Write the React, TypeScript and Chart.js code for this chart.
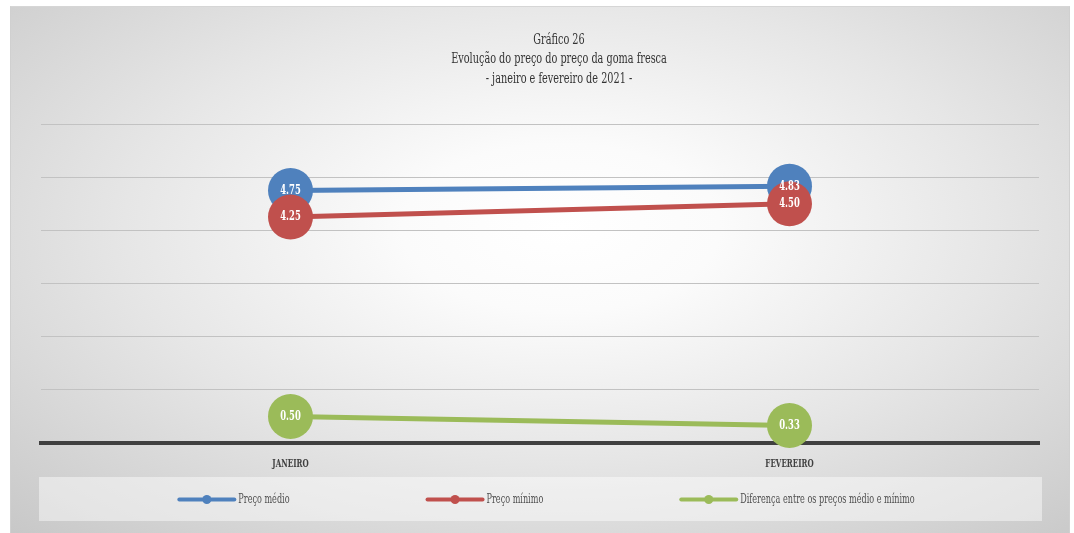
import React, { useEffect, useRef } from "react";
import { Chart, registerables } from "chart.js";

Chart.register(...registerables);

const categories = ["JANEIRO", "FEVEREIRO"];
const precoMedio = [4.75, 4.83];
const precoMinimo = [4.25, 4.5];
const diferenca = [0.5, 0.33];
const seriesLabels = [
  "Preço médio",
  "Preço mínimo",
  "Diferença entre os preços médio e mínimo",
];
const seriesColors = ["#4F81BD", "#C0504D", "#9BBB59"];
const titleLines = [
  "Gráfico 26",
  "Evolução do preço do preço da goma fresca",
  "- janeiro e fevereiro de 2021 -",
];
const yMin = 0;
const yMax = 6;
const yStep = 1;

const FONT = "'DejaVu Serif Condensed', 'DejaVu Serif', serif";
const SX = 0.72;

function drawText(
  ctx: CanvasRenderingContext2D,
  text: string,
  x: number,
  y: number,
  font: string,
  color: string,
  align: "left" | "center" | "right"
) {
  ctx.save();
  ctx.font = font;
  ctx.fillStyle = color;
  ctx.textBaseline = "middle";
  ctx.textAlign = align;
  ctx.translate(x, y);
  ctx.scale(SX, 1);
  ctx.fillText(text, 0, 0);
  ctx.restore();
}

function textWidth(ctx: CanvasRenderingContext2D, text: string, font: string) {
  ctx.save();
  ctx.font = font;
  const w = ctx.measureText(text).width * SX;
  ctx.restore();
  return w;
}

const decorPlugin = {
  id: "decor",
  afterDatasetsDraw(chart: any) {
    const ctx = chart.ctx as CanvasRenderingContext2D;
    chart.data.datasets.forEach((ds: any, i: number) => {
      const meta = chart.getDatasetMeta(i);
      meta.data.forEach((el: any, j: number) => {
        drawText(ctx, Number(ds.data[j]).toFixed(2), el.x, el.y, `bold 13px ${FONT}`, "#ffffff", "center");
      });
    });
  },
  afterDraw(chart: any) {
    const ctx = chart.ctx as CanvasRenderingContext2D;
    const area = chart.chartArea;
    const cx = (area.left + area.right) / 2;
    titleLines.forEach((t, i) => {
      drawText(ctx, t, cx + 19, 33 + i * 19.5, `15px ${FONT}`, "#333333", "center");
    });
    const xs = chart.scales.x;
    categories.forEach((c, i) => {
      drawText(ctx, c, xs.getPixelForValue(i), area.bottom + 21, `bold 11px ${FONT}`, "#404040", "center");
    });
    const boxTop = area.bottom + 34;
    const boxH = 44;
    ctx.save();
    ctx.fillStyle = "rgba(255,255,255,0.45)";
    ctx.fillRect(area.left - 2, boxTop, area.right - area.left + 5, boxH);
    ctx.restore();
    const font = `12.5px ${FONT}`;
    const lineLen = 55;
    const gap = 138;
    const widths = seriesLabels.map((l) => lineLen + 4 + textWidth(ctx, l, font));
    const total = widths.reduce((a, b) => a + b, 0) + gap * (widths.length - 1);
    let x = cx - total / 2 + 7;
    const y = boxTop + boxH / 2 + 0.5;
    seriesLabels.forEach((l, i) => {
      ctx.save();
      ctx.strokeStyle = seriesColors[i];
      ctx.lineWidth = 4;
      ctx.lineCap = "round";
      ctx.beginPath();
      ctx.moveTo(x, y);
      ctx.lineTo(x + lineLen, y);
      ctx.stroke();
      ctx.fillStyle = seriesColors[i];
      ctx.beginPath();
      ctx.arc(x + lineLen / 2, y, 4.5, 0, Math.PI * 2);
      ctx.fill();
      ctx.restore();
      drawText(ctx, l, x + lineLen + 4, y, font, "#505050", "left");
      x += widths[i] + gap;
    });
  },
};

export default function App() {
  const ref = useRef<HTMLCanvasElement | null>(null);
  useEffect(() => {
    if (!ref.current) return;
    const series = [precoMedio, precoMinimo, diferenca];
    const chart = new Chart(ref.current, {
      type: "line",
      data: {
        labels: categories,
        datasets: series.map((d, i) => ({
          label: seriesLabels[i],
          data: d,
          borderColor: seriesColors[i],
          backgroundColor: seriesColors[i],
          borderWidth: 5,
          pointRadius: 22.5,
          pointHoverRadius: 22.5,
          pointBorderWidth: 0,
          pointBackgroundColor: seriesColors[i],
          order: i === 0 ? 2 : i === 1 ? 1 : 0,
          clip: false as any,
        })),
      },
      options: {
        animation: false,
        responsive: true,
        maintainAspectRatio: false,
        events: [],
        layout: { padding: { left: 30, right: 30, top: 117, bottom: 90 } },
        plugins: {
          legend: { display: false },
          title: { display: false },
          tooltip: { enabled: false },
        },
        scales: {
          x: {
            type: "category",
            offset: true,
            grid: { display: false, drawTicks: false },
            border: { display: true, color: "#404040", width: 4 },
            ticks: { display: false },
          },
          y: {
            min: yMin,
            max: yMax,
            ticks: { display: false, stepSize: yStep },
            border: { display: false },
            grid: {
              drawTicks: false,
              color: (c: any) => (c.tick && c.tick.value === 0 ? "rgba(0,0,0,0)" : "#c2c2c2"),
              lineWidth: 1,
            },
          },
        },
      },
      plugins: [decorPlugin],
    });
    return () => chart.destroy();
  }, []);
  return (
    <div
      style={{
        position: "absolute",
        left: 10,
        top: 6,
        width: 1060,
        height: 527,
        boxSizing: "border-box",
        borderTop: "1px solid #d6d6d6",
        borderLeft: "1px solid #d0d0d0",
        borderRight: "1px solid #d0d0d0",
        background:
          "radial-gradient(ellipse 75% 80% at 52% 42%, #ffffff 0%, #fbfbfb 20%, #e6e6e6 55%, #c8c8c8 100%)",
      }}
    >
      <canvas ref={ref} />
    </div>
  );
}
